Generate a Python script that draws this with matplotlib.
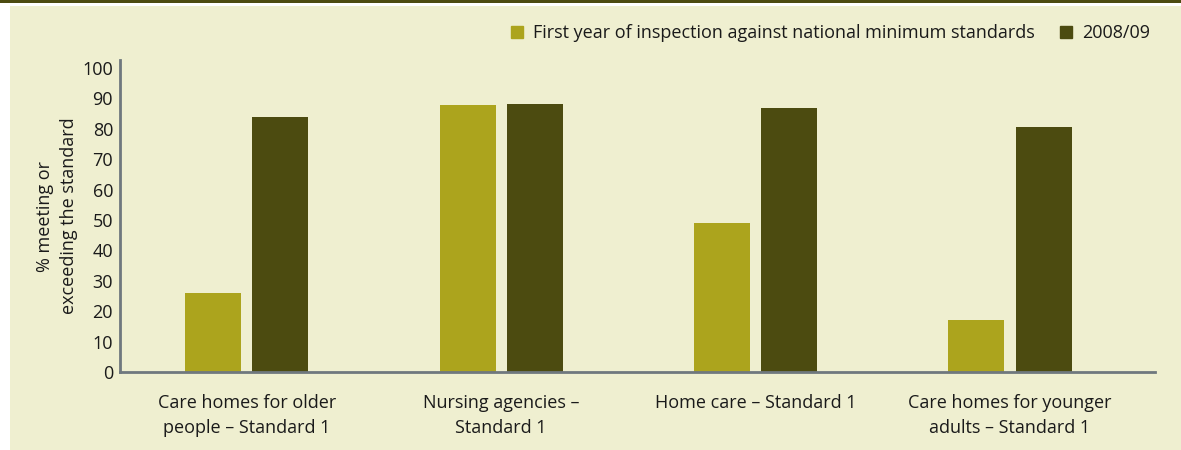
import matplotlib
matplotlib.use("Agg")
import matplotlib.pyplot as plt
from matplotlib.lines import Line2D
from matplotlib.patches import Rectangle
import numpy as np

# data
categories = [
    "Care homes for older\npeople \u2013 Standard 1",
    "Nursing agencies \u2013\nStandard 1",
    "Home care \u2013 Standard 1",
    "Care homes for younger\nadults \u2013 Standard 1",
]
first_year = [26, 87.8, 49, 17]
year_0809 = [84, 88.2, 86.7, 80.5]
series_names = ["First year of inspection against national minimum standards", "2008/09"]
yticks = list(range(0, 101, 10))

LIGHT = "#aca41d"
DARK = "#4c4b10"
BG = "#efefd0"
AXIS = "#6f787e"
TEXT = "#1a1a1a"

plt.rcParams["font.family"] = ["Open Sans", "DejaVu Sans"]
plt.rcParams["font.size"] = 13

W, H = 1181, 450
fig = plt.figure(figsize=(W / 100, H / 100), dpi=100)
fig.patch.set_facecolor("white")

# panel background and top rule
fig.add_artist(Rectangle((10 / W, 0), 1 - 10 / W, (H - 5.5) / H,
                         transform=fig.transFigure, facecolor=BG, edgecolor="none", zorder=0))
fig.add_artist(Rectangle((0, 1 - 2.5 / H), 1, 2.5 / H,
                         transform=fig.transFigure, facecolor=DARK, edgecolor="none", zorder=0))

ax = fig.add_axes([120 / W, 78 / H, (1155 - 120) / W, (372 - 60) / H])
ax.set_facecolor("none")

x = np.arange(len(categories))
bw = 0.22
off = 0.132
ax.bar(x - off, first_year, bw, color=LIGHT, zorder=2)
ax.bar(x + off, year_0809, bw, color=DARK, zorder=2)

ax.set_xlim(-0.498, 3.57)
ax.set_ylim(0, 102.6)
ax.set_yticks(yticks)
ax.set_xticks(x)
ax.set_xticklabels(categories, linespacing=1.45)
ax.tick_params(axis="both", length=0, colors=TEXT, labelsize=13)
ax.tick_params(axis="x", pad=16)
ax.tick_params(axis="y", pad=5)

for s in ["top", "right"]:
    ax.spines[s].set_visible(False)
for s in ["left", "bottom"]:
    ax.spines[s].set_color(AXIS)
    ax.spines[s].set_linewidth(2)

ax.set_ylabel("% meeting or\nexceeding the standard", fontsize=13, color=TEXT,
              linespacing=1.45, labelpad=3)

handles = [Line2D([], [], marker="s", linestyle="none", markersize=8, color=c)
           for c in (LIGHT, DARK)]
fig.legend(handles, series_names, loc="center right", ncol=2, frameon=False,
           bbox_to_anchor=(1150 / W, 1 - 33 / H), handlelength=0.8,
           handletextpad=0.5, columnspacing=1.3, fontsize=13, labelcolor=TEXT,
           borderaxespad=0, borderpad=0)

fig.savefig("out.png", dpi=100, facecolor=fig.get_facecolor())
